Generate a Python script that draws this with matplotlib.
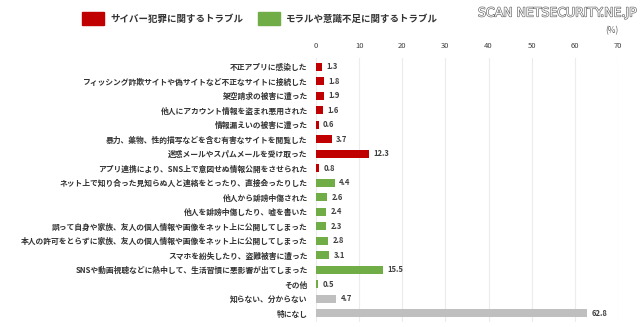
import matplotlib
matplotlib.use("Agg")
import matplotlib.pyplot as plt
import matplotlib.patheffects as pe
from matplotlib.patches import Rectangle

plt.rcParams['font.family'] = ['Noto Sans CJK JP', 'DejaVu Sans']

categories = [
    "不正アプリに感染した",
    "フィッシング詐欺サイトや偽サイトなど不正なサイトに接続した",
    "架空請求の被害に遭った",
    "他人にアカウント情報を盗まれ悪用された",
    "情報漏えいの被害に遭った",
    "暴力、薬物、性的描写などを含む有害なサイトを閲覧した",
    "迷惑メールやスパムメールを受け取った",
    "アプリ連携により、SNS上で意図せぬ情報公開をさせられた",
    "ネット上で知り合った見知らぬ人と連絡をとったり、直接会ったりした",
    "他人から誹謗中傷された",
    "他人を誹謗中傷したり、嘘を書いた",
    "誤って自身や家族、友人の個人情報や画像をネット上に公開してしまった",
    "本人の許可をとらずに家族、友人の個人情報や画像をネット上に公開してしまった",
    "スマホを紛失したり、盗難被害に遭った",
    "SNSや動画視聴などに熱中して、生活習慣に悪影響が出てしまった",
    "その他",
    "知らない、分からない",
    "特になし",
]
values = [1.3, 1.8, 1.9, 1.6, 0.6, 3.7, 12.3, 0.8,
          4.4, 2.6, 2.4, 2.3, 2.8, 3.1, 15.5, 0.5, 4.7, 62.8]
groups = ["cyber"] * 8 + ["moral"] * 8 + ["other"] * 2
group_colors = {"cyber": "#C00000", "moral": "#70AD47", "other": "#BFBFBF"}
legend_labels = ["サイバー犯罪に関するトラブル", "モラルや意識不足に関するトラブル"]
xticks = [0, 10, 20, 30, 40, 50, 60, 70]

fig = plt.figure(figsize=(6.4, 3.27), dpi=100)
W, H = 640, 327
x0, x1 = 316, 618
ytop, ybot = 58, 322
ax = fig.add_axes([x0 / W, 1 - ybot / H, (x1 - x0) / W, (ybot - ytop) / H])

n = len(categories)
ys = list(range(n))
colors = [group_colors[g] for g in groups]
ax.barh(ys, values, height=0.55, color=colors, zorder=3)
ax.set_ylim(n - 0.4, -0.6)
ax.set_xlim(0, 70)
ax.set_xticks(xticks)
ax.xaxis.tick_top()
ax.tick_params(axis='x', length=0, labelsize=5.5, labelcolor='#404040', pad=6)
ax.set_yticks(ys)
ax.set_yticklabels(categories, fontsize=5.6, fontweight='bold', color='#333333')
ax.tick_params(axis='y', length=0, pad=6)
ax.grid(axis='x', color='#ECECEC', linewidth=0.8, zorder=0)
for s in ax.spines.values():
    s.set_visible(False)

for y, v in zip(ys, values):
    ax.text(v + 1.0, y, f"{v}", va='center', ha='left', fontsize=5.5,
            color='#404040', fontweight='bold')

fig.text(619 / W, 1 - 31 / H, "(%)", fontsize=6, color='#606060', ha='right', va='center')

# legend
lx = [82, 258]
for i, lab in enumerate(legend_labels):
    fig.patches.append(Rectangle((lx[i] / W, 1 - 25 / H), 22 / W, 13 / H,
                                 transform=fig.transFigure,
                                 color=[group_colors["cyber"], group_colors["moral"]][i]))
    fig.text((lx[i] + 28) / W, 1 - 19 / H, lab, fontsize=6.8, fontweight='bold',
             color='#333333', va='center', ha='left')

fig.text(637 / W, 1 - 13 / H, "SCAN NETSECURITY.NE.JP", fontsize=9, color='white',
         ha='right', va='center', family='DejaVu Sans',
         path_effects=[pe.withStroke(linewidth=0.9, foreground='#666666')])

fig.savefig("out.png", dpi=100, facecolor='white')
